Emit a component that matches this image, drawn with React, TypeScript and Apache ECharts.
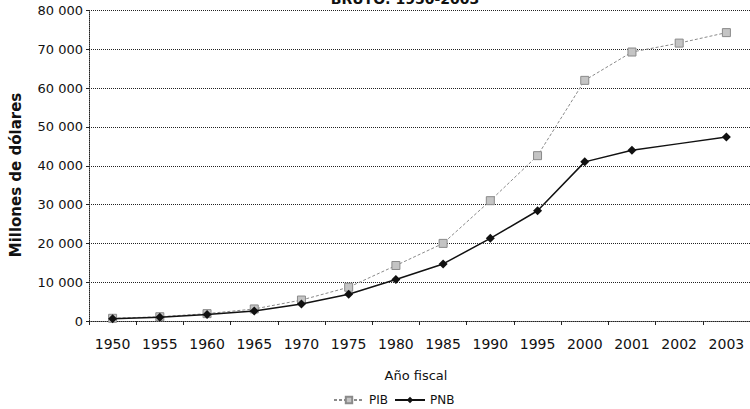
import React, { useEffect, useRef } from "react";
import * as echarts from "echarts";

const years = ["1950", "1955", "1960", "1965", "1970", "1975", "1980", "1985", "1990", "1995", "2000", "2001", "2002", "2003"];
const pib = [700, 1100, 1900, 3100, 5400, 8700, 14300, 20000, 31000, 42600, 62000, 69300, 71600, 74300];
const pnb = [550, 950, 1700, 2600, 4400, 6900, 10700, 14700, 21300, 28400, 41000, 44000, 45700, 47400];
const pnbHiddenMarker = ["2002"];

const FONT = "DejaVu Sans";

const fmt = (v: number) => String(v).replace(/\B(?=(\d{3})+(?!\d))/g, " ");

export default function App() {
  const ref = useRef<HTMLDivElement>(null);
  useEffect(() => {
    if (!ref.current) return;
    const chart = echarts.init(ref.current, undefined, { renderer: "svg" });
    chart.setOption({
      animation: false,
      backgroundColor: "#ffffff",
      textStyle: { fontFamily: FONT },
      graphic: [
        {
          type: "text",
          x: 405,
          y: -1,
          style: {
            text: "BRUTO: 1950-2003",
            font: `bold 14px '${FONT}'`,
            fill: "#111",
            textAlign: "center",
            textVerticalAlign: "middle",
          },
        },
        {
          type: "text",
          x: 16,
          y: 175,
          rotation: Math.PI / 2,
          style: {
            text: "Millones de dólares",
            font: `bold 15px '${FONT}'`,
            fill: "#111",
            textAlign: "center",
            textVerticalAlign: "middle",
          },
        },
        {
          type: "text",
          x: 416,
          y: 375,
          style: {
            text: "Año fiscal",
            font: `13px '${FONT}'`,
            fill: "#111",
            textAlign: "center",
            textVerticalAlign: "middle",
          },
        },
      ],
      legend: {
        left: 328,
        top: 389,
        itemWidth: 30,
        itemHeight: 8,
        itemGap: 6,
        textStyle: { fontFamily: FONT, fontSize: 12, color: "#111" },
        data: ["PIB", "PNB"],
      },
      grid: { left: 89, right: -4, top: 10.5, bottom: 88, containLabel: false },
      xAxis: {
        type: "category",
        data: years,
        boundaryGap: true,
        axisLine: { show: true, lineStyle: { color: "#222", type: "dotted", width: 1 } },
        axisTick: { show: true, length: 4, lineStyle: { color: "#222" } },
        axisLabel: { color: "#111", fontSize: 14, fontFamily: FONT, margin: 16 },
        splitLine: { show: false },
      },
      yAxis: {
        type: "value",
        min: 0,
        max: 80000,
        interval: 10000,
        axisLine: { show: true, lineStyle: { color: "#222", type: "dotted", width: 1 } },
        axisTick: { show: true, length: 3, lineStyle: { color: "#222" } },
        axisLabel: { color: "#111", fontSize: 13, fontFamily: FONT, margin: 6, formatter: fmt },
        splitLine: { show: true, lineStyle: { color: "#222", type: "dotted", width: 1 } },
      },
      series: [
        {
          name: "PIB",
          type: "line",
          data: pib,
          symbol: "rect",
          symbolSize: 8,
          lineStyle: { color: "#8a8a8a", width: 1, type: [3, 2] },
          itemStyle: { color: "#c4c4c4", borderColor: "#8a8a8a", borderWidth: 1 },
          z: 2,
        },
        {
          name: "PNB",
          type: "line",
          data: pnb.map((v, i) =>
            pnbHiddenMarker.includes(years[i]) ? { value: v, symbol: "none" } : v
          ),
          symbol: "diamond",
          symbolSize: 9,
          lineStyle: { color: "#111", width: 1.5 },
          itemStyle: { color: "#111" },
          z: 3,
        },
      ],
    });
    return () => chart.dispose();
  }, []);
  return (
    <div
      ref={ref}
      style={{ position: "fixed", left: 0, top: 0, width: 750, height: 409, background: "#fff" }}
    />
  );
}
